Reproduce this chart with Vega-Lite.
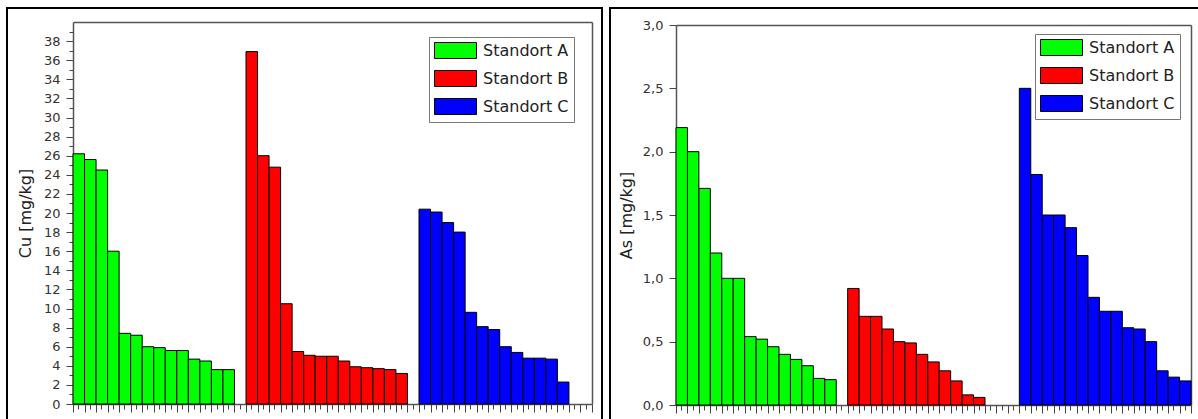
{
  "$schema": "https://vega.github.io/schema/vega-lite/v6.json",
  "padding": {"left": 6, "top": 7, "right": 0, "bottom": 0},
  "background": "white",
  "spacing": 6,
  "resolve": {"scale": {"color": "independent"}, "legend": {"color": "independent"}},
  "config": {
    "view": {"stroke": "black", "strokeWidth": 2},
    "axis": {"grid": false, "labelFont": "DejaVu Sans", "titleFont": "DejaVu Sans", "labelColor": "#333", "titleColor": "#222", "tickColor": "#444", "domainColor": "#555", "domainWidth": 1.5, "tickWidth": 1},
    "legend": {"labelFont": "DejaVu Sans"}
  },
  "datasets": {
    "cu": [
      {"site": "Standort A", "sample": 1, "value": 26.2},
      {"site": "Standort A", "sample": 2, "value": 25.6},
      {"site": "Standort A", "sample": 3, "value": 24.5},
      {"site": "Standort A", "sample": 4, "value": 16.0},
      {"site": "Standort A", "sample": 5, "value": 7.4},
      {"site": "Standort A", "sample": 6, "value": 7.2},
      {"site": "Standort A", "sample": 7, "value": 6.0},
      {"site": "Standort A", "sample": 8, "value": 5.9},
      {"site": "Standort A", "sample": 9, "value": 5.6},
      {"site": "Standort A", "sample": 10, "value": 5.6},
      {"site": "Standort A", "sample": 11, "value": 4.7},
      {"site": "Standort A", "sample": 12, "value": 4.5},
      {"site": "Standort A", "sample": 13, "value": 3.6},
      {"site": "Standort A", "sample": 14, "value": 3.6},
      {"site": "Standort B", "sample": 16, "value": 36.9},
      {"site": "Standort B", "sample": 17, "value": 26.0},
      {"site": "Standort B", "sample": 18, "value": 24.8},
      {"site": "Standort B", "sample": 19, "value": 10.5},
      {"site": "Standort B", "sample": 20, "value": 5.5},
      {"site": "Standort B", "sample": 21, "value": 5.1},
      {"site": "Standort B", "sample": 22, "value": 5.0},
      {"site": "Standort B", "sample": 23, "value": 5.0},
      {"site": "Standort B", "sample": 24, "value": 4.5},
      {"site": "Standort B", "sample": 25, "value": 3.9},
      {"site": "Standort B", "sample": 26, "value": 3.8},
      {"site": "Standort B", "sample": 27, "value": 3.7},
      {"site": "Standort B", "sample": 28, "value": 3.6},
      {"site": "Standort B", "sample": 29, "value": 3.2},
      {"site": "Standort C", "sample": 31, "value": 20.4},
      {"site": "Standort C", "sample": 32, "value": 20.1},
      {"site": "Standort C", "sample": 33, "value": 19.0},
      {"site": "Standort C", "sample": 34, "value": 18.0},
      {"site": "Standort C", "sample": 35, "value": 9.6},
      {"site": "Standort C", "sample": 36, "value": 8.1},
      {"site": "Standort C", "sample": 37, "value": 7.8},
      {"site": "Standort C", "sample": 38, "value": 6.0},
      {"site": "Standort C", "sample": 39, "value": 5.4},
      {"site": "Standort C", "sample": 40, "value": 4.8},
      {"site": "Standort C", "sample": 41, "value": 4.8},
      {"site": "Standort C", "sample": 42, "value": 4.7},
      {"site": "Standort C", "sample": 43, "value": 2.3}
    ],
    "as": [
      {"site": "Standort A", "sample": 1, "value": 2.19},
      {"site": "Standort A", "sample": 2, "value": 2.0},
      {"site": "Standort A", "sample": 3, "value": 1.71},
      {"site": "Standort A", "sample": 4, "value": 1.2},
      {"site": "Standort A", "sample": 5, "value": 1.0},
      {"site": "Standort A", "sample": 6, "value": 1.0},
      {"site": "Standort A", "sample": 7, "value": 0.54},
      {"site": "Standort A", "sample": 8, "value": 0.52},
      {"site": "Standort A", "sample": 9, "value": 0.46},
      {"site": "Standort A", "sample": 10, "value": 0.40},
      {"site": "Standort A", "sample": 11, "value": 0.36},
      {"site": "Standort A", "sample": 12, "value": 0.31},
      {"site": "Standort A", "sample": 13, "value": 0.21},
      {"site": "Standort A", "sample": 14, "value": 0.20},
      {"site": "Standort B", "sample": 16, "value": 0.92},
      {"site": "Standort B", "sample": 17, "value": 0.70},
      {"site": "Standort B", "sample": 18, "value": 0.70},
      {"site": "Standort B", "sample": 19, "value": 0.60},
      {"site": "Standort B", "sample": 20, "value": 0.50},
      {"site": "Standort B", "sample": 21, "value": 0.49},
      {"site": "Standort B", "sample": 22, "value": 0.40},
      {"site": "Standort B", "sample": 23, "value": 0.34},
      {"site": "Standort B", "sample": 24, "value": 0.27},
      {"site": "Standort B", "sample": 25, "value": 0.19},
      {"site": "Standort B", "sample": 26, "value": 0.08},
      {"site": "Standort B", "sample": 27, "value": 0.06},
      {"site": "Standort C", "sample": 31, "value": 2.5},
      {"site": "Standort C", "sample": 32, "value": 1.82},
      {"site": "Standort C", "sample": 33, "value": 1.5},
      {"site": "Standort C", "sample": 34, "value": 1.5},
      {"site": "Standort C", "sample": 35, "value": 1.40},
      {"site": "Standort C", "sample": 36, "value": 1.18},
      {"site": "Standort C", "sample": 37, "value": 0.85},
      {"site": "Standort C", "sample": 38, "value": 0.74},
      {"site": "Standort C", "sample": 39, "value": 0.74},
      {"site": "Standort C", "sample": 40, "value": 0.61},
      {"site": "Standort C", "sample": 41, "value": 0.60},
      {"site": "Standort C", "sample": 42, "value": 0.50},
      {"site": "Standort C", "sample": 43, "value": 0.27},
      {"site": "Standort C", "sample": 44, "value": 0.22},
      {"site": "Standort C", "sample": 45, "value": 0.19}
    ]
  },
  "hconcat": [
    {
      "width": 595,
      "height": 430,
      "data": {"name": "cu"},
      "resolve": {"axis": {"x": "independent", "y": "independent"}},
      "layer": [
        {
          "mark": {"type": "bar", "stroke": "black", "strokeWidth": 1},
          "encoding": {
            "x": {"field": "sample", "type": "ordinal",
              "scale": {"domain": [1,2,3,4,5,6,7,8,9,10,11,12,13,14,15,16,17,18,19,20,21,22,23,24,25,26,27,28,29,30,31,32,33,34,35,36,37,38,39,40,41,42,43,44,45], "range": [66, 585], "paddingInner": 0, "paddingOuter": 0},
              "axis": {"orient": "bottom", "offset": -34, "labels": false, "title": null, "tickSize": 5}},
            "y": {"field": "value", "type": "quantitative",
              "scale": {"domain": [0, 40], "range": [396, 14], "nice": false, "zero": true},
              "axis": {"orient": "left", "offset": -66, "values": [0,2,4,6,8,10,12,14,16,18,20,22,24,26,28,30,32,34,36,38], "tickSize": 7, "labelPadding": 6, "labelFontSize": 13, "title": "Cu [mg/kg]", "titleFontSize": 16, "titleFontWeight": "normal", "titlePadding": 10}},
            "color": {"field": "site", "type": "nominal",
              "scale": {"domain": ["Standort A", "Standort B", "Standort C"], "range": ["#00ff00", "#ff0000", "#0000ff"]},
              "legend": {"title": null, "orient": "none", "legendX": 422, "legendY": 29, "symbolType": "M-1,-1H4.25V1H-1Z", "symbolSize": 256, "symbolStrokeColor": "black", "symbolStrokeWidth": 1, "symbolOpacity": 1, "labelFontSize": 16, "labelColor": "#222", "labelOffset": 32, "rowPadding": 7, "padding": 5, "strokeColor": "#777", "fillColor": "white"}}
          }
        },
        {
          "mark": {"type": "bar", "opacity": 0},
          "encoding": {
            "x": {"field": "sample", "type": "ordinal", "axis": {"orient": "bottom", "offset": -34, "labels": false, "title": null, "domain": false, "tickBand": "extent", "tickSize": 8}},
            "y": {"field": "value", "type": "quantitative", "axis": {"orient": "left", "offset": -66, "values": [1,3,5,7,9,11,13,15,17,19,21,23,25,27,29,31,33,35,37,39], "labels": false, "domain": false, "title": null, "tickSize": 4}}
          }
        },
        {
          "mark": {"type": "bar", "opacity": 0},
          "encoding": {
            "x": {"field": "sample", "type": "ordinal", "axis": {"orient": "top", "offset": -14, "labels": false, "ticks": false, "title": null}},
            "y": {"field": "value", "type": "quantitative", "axis": {"orient": "right", "offset": -10, "labels": false, "ticks": false, "title": null}}
          }
        }
      ]
    },
    {
      "width": 595,
      "height": 430,
      "data": {"name": "as"},
      "resolve": {"axis": {"x": "independent", "y": "independent"}},
      "layer": [
        {
          "mark": {"type": "bar", "stroke": "black", "strokeWidth": 1},
          "encoding": {
            "x": {"field": "sample", "type": "ordinal",
              "scale": {"domain": [1,2,3,4,5,6,7,8,9,10,11,12,13,14,15,16,17,18,19,20,21,22,23,24,25,26,27,28,29,30,31,32,33,34,35,36,37,38,39,40,41,42,43,44,45], "range": [66, 581], "paddingInner": 0, "paddingOuter": 0},
              "axis": {"orient": "bottom", "offset": -33, "labels": false, "title": null, "tickSize": 5}},
            "y": {"field": "value", "type": "quantitative",
              "scale": {"domain": [0, 3], "range": [397, 17], "nice": false, "zero": true},
              "axis": {"orient": "left", "offset": -66, "values": [0, 0.5, 1, 1.5, 2, 2.5, 3], "labelExpr": "replace(format(datum.value, '.1f'), '.', ',')", "tickSize": 7, "labelPadding": 6, "labelFontSize": 13, "title": "As [mg/kg]", "titleFontSize": 16, "titleFontWeight": "normal", "titlePadding": 8}},
            "color": {"field": "site", "type": "nominal",
              "scale": {"domain": ["Standort A", "Standort B", "Standort C"], "range": ["#00ff00", "#ff0000", "#0000ff"]},
              "legend": {"title": null, "orient": "none", "legendX": 425, "legendY": 26, "symbolType": "M-1,-1H4.25V1H-1Z", "symbolSize": 256, "symbolStrokeColor": "black", "symbolStrokeWidth": 1, "symbolOpacity": 1, "labelFontSize": 16, "labelColor": "#222", "labelOffset": 32, "rowPadding": 7, "padding": 5, "strokeColor": "#777", "fillColor": "white"}}
          }
        },
        {
          "mark": {"type": "bar", "opacity": 0},
          "encoding": {
            "x": {"field": "sample", "type": "ordinal", "axis": {"orient": "bottom", "offset": -33, "labels": false, "title": null, "domain": false, "tickBand": "extent", "tickSize": 8}},
            "y": {"field": "value", "type": "quantitative", "axis": null}
          }
        },
        {
          "mark": {"type": "bar", "opacity": 0},
          "encoding": {
            "x": {"field": "sample", "type": "ordinal", "axis": {"orient": "top", "offset": -17, "labels": false, "ticks": false, "title": null}},
            "y": {"field": "value", "type": "quantitative", "axis": {"orient": "right", "offset": -14, "labels": false, "ticks": false, "title": null}}
          }
        }
      ]
    }
  ]
}
